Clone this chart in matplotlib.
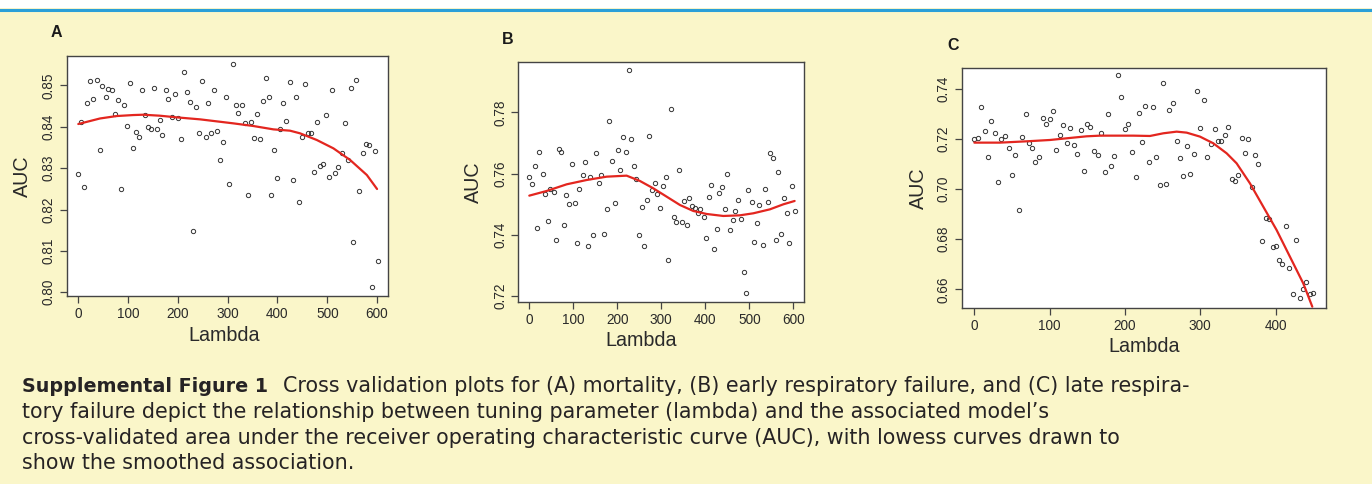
import matplotlib
matplotlib.use("Agg")
import matplotlib.pyplot as plt
from matplotlib.lines import Line2D
from matplotlib.patches import Rectangle

plt.rcParams['font.family'] = ['Liberation Sans', 'DejaVu Sans']

# ---------------- data ----------------
A_lambda = [0, 5, 12, 17, 23, 30, 37, 43, 48, 55, 60, 67, 73, 79, 85, 91, 97, 103, 109, 115,
            121, 127, 133, 139, 146, 152, 158, 164, 169, 176, 181, 188, 195, 200, 206, 212, 218,
            225, 230, 236, 242, 248, 256, 261, 267, 273, 279, 285, 291, 297, 303, 310, 316, 321,
            328, 334, 340, 346, 352, 358, 364, 370, 376, 382, 388, 394, 400, 406, 412, 418, 425,
            431, 437, 443, 449, 455, 461, 468, 473, 479, 486, 492, 498, 504, 510, 516, 522, 529,
            535, 541, 547, 552, 558, 564, 571, 577, 583, 589, 595, 601]
A_auc = [0.8287, 0.8412, 0.8254, 0.8457, 0.8511, 0.8466, 0.8514, 0.8344, 0.8498, 0.8471,
         0.8491, 0.8489, 0.8431, 0.8465, 0.8249, 0.8452, 0.8403, 0.8506, 0.8349, 0.8388,
         0.8375, 0.8488, 0.8429, 0.8400, 0.8395, 0.8494, 0.8394, 0.8417, 0.8381, 0.8490,
         0.8468, 0.8424, 0.8480, 0.8420, 0.8370, 0.8532, 0.8485, 0.8459, 0.8148, 0.8448,
         0.8384, 0.8510, 0.8376, 0.8457, 0.8385, 0.8489, 0.8390, 0.8319, 0.8362, 0.8473,
         0.8262, 0.8552, 0.8452, 0.8433, 0.8453, 0.8409, 0.8235, 0.8411, 0.8374, 0.8432,
         0.8370, 0.8463, 0.8518, 0.8473, 0.8236, 0.8344, 0.8276, 0.8395, 0.8457, 0.8414,
         0.8507, 0.8272, 0.8471, 0.8219, 0.8376, 0.8504, 0.8384, 0.8384, 0.8291, 0.8411,
         0.8306, 0.8309, 0.8428, 0.8279, 0.8489, 0.8288, 0.8302, 0.8337, 0.8409, 0.8320,
         0.8494, 0.8121, 0.8514, 0.8244, 0.8336, 0.8358, 0.8357, 0.8012, 0.8342, 0.8076]
A_fit_lambda = [0, 43.5, 77, 110.5, 130.5, 164, 197.7, 244.5, 311.5, 351.6, 391.8, 425.3,
                445.4, 479, 512.4, 546, 579.5, 600]
A_fit_auc = [0.84066, 0.8420, 0.84259, 0.84283, 0.84291, 0.84267, 0.84227, 0.84179, 0.84082,
             0.84018, 0.83937, 0.83905, 0.83841, 0.8368, 0.83478, 0.83196, 0.82834, 0.82496]

B_lambda = [0, 6, 12, 18, 23, 30, 36, 42, 48, 55, 61, 67, 73, 78, 84, 90, 97, 103, 108, 114,
            121, 127, 133, 139, 145, 152, 158, 164, 170, 176, 182, 189, 195, 201, 207, 212, 219,
            226, 231, 237, 243, 249, 255, 261, 267, 273, 279, 285, 291, 297, 304, 310, 316, 322,
            328, 334, 340, 346, 352, 358, 364, 370, 376, 383, 389, 396, 402, 408, 414, 420, 426,
            431, 438, 444, 449, 456, 462, 468, 474, 480, 487, 492, 498, 505, 511, 517, 523, 530,
            535, 542, 548, 554, 561, 566, 573, 579, 585, 591, 596, 603]
B_auc = [0.7590, 0.7567, 0.7624, 0.7424, 0.7672, 0.7599, 0.7535, 0.7445, 0.7549, 0.7539,
         0.7384, 0.7682, 0.7670, 0.7434, 0.7532, 0.7502, 0.7633, 0.7504, 0.7373, 0.7549,
         0.7595, 0.7637, 0.7365, 0.7590, 0.7401, 0.7668, 0.7570, 0.7597, 0.7404, 0.7484,
         0.7771, 0.7640, 0.7503, 0.7677, 0.7613, 0.7718, 0.7671, 0.7938, 0.7712, 0.7624,
         0.7582, 0.7400, 0.7492, 0.7365, 0.7515, 0.7723, 0.7547, 0.7570, 0.7533, 0.7487,
         0.7561, 0.7590, 0.7318, 0.7811, 0.7459, 0.7441, 0.7611, 0.7441, 0.7512, 0.7434,
         0.7522, 0.7496, 0.7487, 0.7473, 0.7484, 0.7459, 0.7391, 0.7525, 0.7563, 0.7353,
         0.7421, 0.7538, 0.7557, 0.7484, 0.7599, 0.7416, 0.7450, 0.7477, 0.7514, 0.7453,
         0.7280, 0.7210, 0.7548, 0.7508, 0.7378, 0.7440, 0.7497, 0.7368, 0.7549, 0.7509,
         0.7666, 0.7652, 0.7382, 0.7605, 0.7404, 0.7520, 0.7473, 0.7373, 0.7561, 0.7479]
B_fit_lambda = [0, 39.4, 84.8, 130.3, 175.8, 221.2, 251.5, 281.8, 312.1, 342.4, 372.7, 403,
                440.9, 478.8, 509.1, 547, 577.3, 603]
B_fit_auc = [0.75283, 0.75435, 0.75652, 0.75793, 0.75902, 0.75935, 0.75761, 0.75522, 0.7525,
             0.74978, 0.74783, 0.74685, 0.7462, 0.74641, 0.74707, 0.74837, 0.75, 0.75109]

C_lambda = [0, 5, 9, 14, 18, 22, 27, 31, 36, 41, 46, 50, 54, 59, 63, 68, 72, 77, 81, 86, 91,
            95, 100, 104, 109, 114, 118, 123, 127, 132, 136, 141, 146, 150, 154, 159, 164, 168,
            173, 177, 181, 186, 191, 195, 200, 204, 209, 214, 218, 223, 227, 232, 237, 241, 246,
            250, 255, 259, 264, 269, 273, 277, 282, 286, 291, 296, 300, 305, 309, 314, 319, 323,
            328, 333, 337, 342, 346, 350, 355, 360, 364, 369, 373, 377, 382, 387, 391, 396, 400,
            405, 409, 414, 418, 423, 427, 432, 437, 441, 446, 450]
C_auc = [0.72017, 0.72043, 0.73268, 0.72323, 0.71285, 0.72735, 0.72256, 0.7030, 0.72003,
         0.7211, 0.71657, 0.70566, 0.71378, 0.69168, 0.7207, 0.73015, 0.71857, 0.71644,
         0.7110, 0.71285, 0.72855, 0.72589, 0.72802, 0.73121, 0.71577, 0.72176, 0.72562,
         0.71857, 0.72429, 0.71777, 0.71404, 0.72376, 0.70725, 0.72589, 0.72496, 0.71511,
         0.71378, 0.7223, 0.70699, 0.73015, 0.70938, 0.71338, 0.74559, 0.73694, 0.72416,
         0.72589, 0.71498, 0.70486, 0.73042, 0.7187, 0.73334, 0.7110, 0.73268, 0.71285,
         0.7018, 0.74253, 0.7022, 0.73161, 0.73454, 0.71937, 0.71245, 0.70512, 0.71737,
         0.70606, 0.71404, 0.7392, 0.72429, 0.73574, 0.71285, 0.7179, 0.72416, 0.71923,
         0.71923, 0.7215, 0.72496, 0.70393, 0.7034, 0.7058, 0.72057, 0.71431, 0.72003,
         0.7010, 0.71378, 0.71018, 0.6793, 0.68862, 0.68795, 0.67691, 0.67744, 0.67158,
         0.67025, 0.68529, 0.66839, 0.65828, 0.6797, 0.65641, 0.6600, 0.6628, 0.65814, 0.65867]
C_fit_lambda = [0, 34.1, 69.5, 100.4, 131.4, 149.1, 166.8, 211.1, 233.2, 250.9, 268.6, 281.9,
                299.6, 317.3, 335, 348.2, 365.9, 383.6, 401.3, 419, 436.7, 448.7]
C_fit_auc = [0.71857, 0.71857, 0.7191, 0.71963, 0.72057, 0.7211, 0.72136, 0.72136, 0.72123,
             0.7223, 0.72296, 0.72256, 0.72097, 0.7183, 0.71431, 0.71032, 0.70233, 0.693,
             0.68369, 0.67304, 0.66239, 0.65308]

A_yticks = [0.80, 0.81, 0.82, 0.83, 0.84, 0.85]
B_yticks = [0.72, 0.74, 0.76, 0.78]
C_yticks = [0.66, 0.68, 0.70, 0.72, 0.74]
AB_xticks = [0, 100, 200, 300, 400, 500, 600]
C_xticks = [0, 100, 200, 300, 400]
panel_labels = ["A", "B", "C"]
xlabel_text = "Lambda"
ylabel_text = "AUC"

cap_bold = "Supplemental Figure 1"
cap_lines = [
    "Cross validation plots for (A) mortality, (B) early respiratory failure, and (C) late respira-",
    "tory failure depict the relationship between tuning parameter (lambda) and the associated model\u2019s",
    "cross-validated area under the receiver operating characteristic curve (AUC), with lowess curves drawn to",
    "show the smoothed association.",
]

# ---------------- figure ----------------
W, H = 1372, 484
BG = '#FAF6C9'
fig = plt.figure(figsize=(W / 100, H / 100), dpi=100)
fig.patch.set_facecolor(BG)

# white band + blue rule at the top
fig.patches.append(Rectangle((0, 1 - 8 / H), 1, 8 / H, transform=fig.transFigure,
                             facecolor='white', edgecolor='none', zorder=0))
fig.add_artist(Line2D([0, 1], [1 - 9.5 / H, 1 - 9.5 / H], transform=fig.transFigure,
                      color='#2A9FD8', lw=2.2))

def px_axes(left, top, right, bottom):
    return fig.add_axes([left / W, 1 - bottom / H, (right - left) / W, (bottom - top) / H])

TXT = '#2a2a2a'
panels = [
    dict(box=(67, 56, 388, 296), x=A_lambda, y=A_auc, fx=A_fit_lambda, fy=A_fit_auc,
         xlim=(-22.7, 622), ylim=(0.7991, 0.8571), xt=AB_xticks, yt=A_yticks,
         lab=(56, 33), ylab_x=-0.109, xlab=(0.49, -0.125)),
    dict(box=(518.3, 61.7, 804.3, 302.3), x=B_lambda, y=B_auc, fx=B_fit_lambda, fy=B_fit_auc,
         xlim=(-25, 625), ylim=(0.71804, 0.79652), xt=AB_xticks, yt=B_yticks,
         lab=(507.7, 39), ylab_x=-0.123, xlab=(0.431, -0.118)),
    dict(box=(961.7, 68.3, 1326.3, 307.7), x=C_lambda, y=C_auc, fx=C_fit_lambda, fy=C_fit_auc,
         xlim=(-16.8, 467.3), ylim=(0.65267, 0.74825), xt=C_xticks, yt=C_yticks,
         lab=(952.7, 45), ylab_x=-0.0916, xlab=(0.5, -0.124)),
]

for p, name in zip(panels, panel_labels):
    ax = px_axes(*p['box'])
    ax.set_facecolor('white')
    ax.plot(p['x'], p['y'], linestyle='none', marker='o', ms=3.1, mfc='none',
            mec='#333333', mew=0.7, zorder=2)
    ax.plot(p['fx'], p['fy'], color='#E3261F', lw=1.6, zorder=3, solid_capstyle='round')
    ax.set_xlim(*p['xlim'])
    ax.set_ylim(*p['ylim'])
    ax.set_xticks(p['xt'])
    ax.set_yticks(p['yt'])
    ax.set_yticklabels(['%.2f' % v for v in p['yt']])
    ax.tick_params(direction='out', length=5, width=0.9, color='#444444',
                   labelsize=9.8, labelcolor=TXT, pad=3)
    for lbl in ax.get_yticklabels():
        lbl.set_rotation(90)
        lbl.set_va('center')
    for s in ax.spines.values():
        s.set_color('#444444')
        s.set_linewidth(1.0)
    ax.set_xlabel(xlabel_text, fontsize=14.2, color=TXT)
    ax.set_ylabel(ylabel_text, fontsize=14.2, color=TXT)
    ax.xaxis.set_label_coords(*p['xlab'])
    ax.yaxis.set_label_coords(p['ylab_x'], 0.5)
    fig.text(p['lab'][0] / W, 1 - p['lab'][1] / H, name, fontsize=11.5, fontweight='bold',
             color='#1a1a1a', ha='center', va='center')

# caption (DejaVu Sans: wide face; size fitted to the reference line width)
CAPC = '#262324'
CAPF = 'DejaVu Sans'
cap_x = 22
cap_base = [391.5, 417.5, 443.5, 469.0]
fig.canvas.draw()
rend = fig.canvas.get_renderer()
probe = fig.text(0, 0, cap_lines[2], fontsize=10, family=CAPF)
w10 = probe.get_window_extent(rend).width
probe.remove()
capfs = 10 * 1095 / w10
probe = fig.text(0, 0, cap_bold, fontsize=10, family=CAPF, fontweight='bold')
wb10 = probe.get_window_extent(rend).width
probe.remove()
boldfs = 10 * 246 / wb10

fig.text(cap_x / W, 1 - cap_base[0] / H, cap_bold, fontsize=boldfs, family=CAPF,
         fontweight='bold', color=CAPC, ha='left', va='baseline')
fig.text((cap_x + 246 + 15) / W, 1 - cap_base[0] / H, cap_lines[0], fontsize=capfs,
         family=CAPF, color=CAPC, ha='left', va='baseline')
for line, yy in zip(cap_lines[1:], cap_base[1:]):
    fig.text(cap_x / W, 1 - yy / H, line, fontsize=capfs, family=CAPF, color=CAPC,
             ha='left', va='baseline')

fig.savefig('out.png', dpi=100, facecolor=BG)
